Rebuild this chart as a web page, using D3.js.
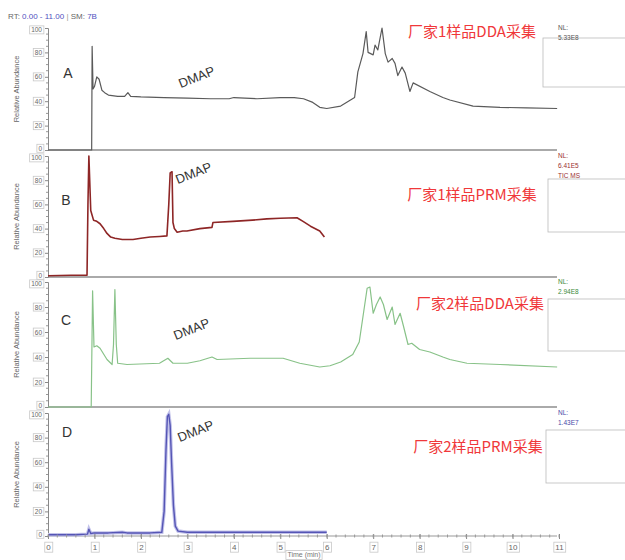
<!DOCTYPE html>
<html><head><meta charset="utf-8">
<script src="https://cdn.jsdelivr.net/npm/d3@7"></script>
<style>body{margin:0;background:#fff}svg{display:block}</style>
</head><body>
<svg id="chart" width="625" height="560"></svg>
<script>
// ---- data ----
const timeTicks = d3.range(0, 12);
const abundanceTicks = [0, 20, 40, 60, 80, 100];

const panelLetters = ["A", "B", "C", "D"];
const panelTitles = ["厂家1样品DDA采集", "厂家1样品PRM采集", "厂家2样品DDA采集", "厂家2样品PRM采集"];
const normLevels = [["NL:", "5.33E8"], ["NL:", "6.41E5", "TIC  MS"], ["NL:", "2.94E8"], ["NL:", "1.43E7"]];
const peakName = "DMAP";

// trace A: vendor 1, DDA
const traceA_t = [0, 0.94, 0.95, 0.97, 1.0, 1.05, 1.1, 1.16, 1.22, 1.3, 1.5, 1.65, 1.72, 1.78, 2.0, 2.5, 3.0, 3.5, 3.9, 4.0, 4.5, 5.0, 5.3, 5.5, 5.7, 5.85, 6.0, 6.3, 6.6, 6.67, 6.78, 6.85, 6.89, 7.0, 7.04, 7.1, 7.19, 7.26, 7.32, 7.41, 7.47, 7.53, 7.62, 7.69, 7.79, 7.86, 8.22, 8.5, 8.65, 9.15, 9.73, 10.3, 10.96];
const traceA_v = [0, 0, 85, 50, 52, 60, 58, 49, 47, 45, 44, 44, 47, 44, 43.5, 43, 42.5, 42, 42, 43, 42, 43, 43, 42, 39, 35, 34, 36, 43, 64, 79, 97, 80, 78, 86, 82, 100, 79, 72, 75, 71, 61, 68, 63, 48, 55, 48, 43, 41, 36, 35, 34.5, 34];

// trace B: vendor 1, PRM
const traceB_t = [0, 0.5, 0.84, 0.86, 0.88, 0.92, 0.98, 1.05, 1.12, 1.2, 1.27, 1.35, 1.44, 1.6, 1.83, 2.0, 2.2, 2.4, 2.56, 2.6, 2.63, 2.67, 2.69, 2.72, 2.78, 2.9, 2.99, 3.27, 3.53, 3.55, 3.98, 4.4, 4.71, 5.0, 5.36, 5.49, 5.65, 5.85, 5.95];
const traceB_v = [1, 1.5, 1.5, 60, 100, 55, 47, 46, 44, 40, 36, 33, 32, 31, 31, 32, 33, 33.5, 34, 60, 86, 87, 45, 40, 37, 38, 38, 40, 41, 45, 46, 47, 48, 48.5, 49, 46, 42, 38, 33];

// trace C: vendor 2, DDA
const traceC_t = [0, 0.93, 0.96, 0.99, 1.05, 1.12, 1.27, 1.38, 1.41, 1.44, 1.47, 1.5, 1.7, 2.4, 2.58, 2.69, 3.0, 3.27, 3.53, 3.64, 4.35, 5.06, 5.42, 5.85, 6.07, 6.3, 6.56, 6.7, 6.87, 6.93, 7.0, 7.07, 7.15, 7.22, 7.3, 7.41, 7.47, 7.58, 7.65, 7.75, 7.83, 8.0, 8.22, 8.5, 8.65, 9.02, 9.73, 10.96];
const traceC_v = [0, 0, 93, 48, 49, 47, 38, 34, 50, 94, 50, 35, 34, 35, 39, 35, 35, 37, 40, 38, 39, 39, 35, 32, 33, 36, 42, 52, 95, 96, 75, 82, 88, 82, 70, 80, 66, 75, 65, 50, 51, 46, 44, 40, 38, 35, 34, 32];

// trace D: vendor 2, PRM
const traceD_t = [0, 0.3, 0.6, 0.85, 0.88, 0.92, 1.0, 1.3, 1.6, 1.7, 1.9, 2.2, 2.45, 2.5, 2.54, 2.57, 2.6, 2.63, 2.66, 2.7, 2.74, 2.8, 3.0, 3.5, 4.0, 4.5, 5.0, 5.5, 6.0];
const traceD_v = [1, 1, 1, 1.5, 5.5, 2, 2.5, 2.5, 3, 2.5, 2.5, 2.5, 3, 20, 70, 97, 99, 90, 60, 25, 8, 4, 3, 3, 3, 3, 3, 3, 3];

const traces = [
  {t: traceA_t, v: traceA_v},
  {t: traceB_t, v: traceB_v},
  {t: traceC_t, v: traceC_v},
  {t: traceD_t, v: traceD_v}
];

// ---- layout & styles ----
const panels = [
  {y0: 150, y100: 28, color: "#5a5a5a", width: 1.2, nlColor: "#555", box: [543, 38, 49], dmap: [197, 78], letter: [68, 78], title: [472, 37]},
  {y0: 277, y100: 156, color: "#8e2626", width: 1.6, nlColor: "#9a3030", box: [548, 179, 53], dmap: [194, 174], letter: [66, 205], title: [472, 200]},
  {y0: 407, y100: 282, color: "#88c288", width: 1.2, nlColor: "#3a8a3a", box: [548, 299, 52], dmap: [192, 330], letter: [66, 325], title: [480, 309]},
  {y0: 536, y100: 413, color: "#5555b5", width: 1.4, nlColor: "#4848a8", box: [546, 430, 53], dmap: [196, 432], letter: [67, 437], title: [478, 452]}
];

const svg = d3.select("#chart");
const font = "'Liberation Sans', Arial, sans-serif";
const x = d3.scaleLinear().domain([0, 11]).range([48, 559]);

// header
const hdr = svg.append("text").attr("x", 8).attr("y", 19).attr("font-family", font).attr("font-size", 8);
hdr.append("tspan").attr("fill", "#666").text("RT: ");
hdr.append("tspan").attr("fill", "#5050c0").text("0.00 - 11.00");
hdr.append("tspan").attr("fill", "#999").text(" | ");
hdr.append("tspan").attr("fill", "#666").text("SM: ");
hdr.append("tspan").attr("fill", "#5050c0").text("7B");

function boxAround(g, sel) {
  sel.each(function () {
    const b = this.getBBox();
    g.insert("rect", ":first-child")
      .attr("x", b.x - 1.5).attr("y", b.y - 0.5)
      .attr("width", b.width + 3).attr("height", b.height + 1)
      .attr("fill", "none").attr("stroke", "#c8c8c8").attr("stroke-width", 0.8);
  });
}

panels.forEach((p, i) => {
  const y = d3.scaleLinear().domain([0, 100]).range([p.y0, p.y100]);
  const g = svg.append("g");

  // info box and normalisation level
  g.append("rect").attr("x", p.box[0]).attr("y", p.box[1]).attr("width", 90).attr("height", p.box[2])
    .attr("fill", "#fff").attr("stroke", "#bbb").attr("stroke-width", 0.8);
  normLevels[i].forEach((s, k) => {
    g.append("text").attr("x", 558).attr("y", y(100) + 2 + k * 10)
      .attr("font-family", font).attr("font-size", 6.5).attr("fill", p.nlColor).text(s);
  });

  // baseline / separator
  g.append("line").attr("x1", x(0)).attr("x2", 557).attr("y1", p.y0).attr("y2", p.y0)
    .attr("stroke", i === 3 ? "#999" : "#aaa").attr("stroke-width", i === 3 ? 1 : 2);

  // y axis; end labels nudged inward so stacked panels don't collide
  const ya = g.append("g").attr("transform", `translate(${x(0)},0)`)
    .call(d3.axisLeft(y).tickValues(abundanceTicks).tickSize(3).tickPadding(3))
    .call(a => a.select(".domain").attr("stroke", "#888"))
    .call(a => a.selectAll(".tick line").attr("stroke", "#888"))
    .call(a => a.selectAll(".tick text").attr("font-family", font).attr("font-size", 6.5).attr("fill", "#666")
      .attr("y", d => d === 100 ? 1.8 : d === 0 ? -1.8 : 0));
  ya.selectAll(".minor").data(d3.range(0, 101, 5).filter(v => v % 20)).enter().append("line")
    .attr("x1", -2).attr("x2", 0).attr("y1", d => y(d)).attr("y2", d => y(d)).attr("stroke", "#999");
  ya.selectAll(".tick").each(function () {
    const t = d3.select(this);
    boxAround(t, t.select("text"));
  });

  g.append("text").attr("transform", `translate(19,${(p.y0 + p.y100) / 2}) rotate(-90)`)
    .attr("text-anchor", "middle").attr("font-family", font).attr("font-size", 7.5).attr("fill", "#666")
    .text("Relative Abundance");

  // chromatogram trace
  const tr = traces[i];
  const pts = tr.t.map((t, k) => [t, tr.v[k]]);
  const line = d3.line().x(d => x(d[0])).y(d => y(d[1]));
  if (i === 3) {
    g.append("path").attr("d", line(pts)).attr("fill", "none").attr("stroke", "#c2c2ea").attr("stroke-width", 3.5);
  }
  g.append("path").attr("d", line(pts)).attr("fill", "none")
    .attr("stroke", p.color).attr("stroke-width", p.width).attr("stroke-linejoin", "round");

  // annotations
  g.append("text").attr("x", p.letter[0]).attr("y", p.letter[1]).attr("text-anchor", "middle")
    .attr("font-family", font).attr("font-size", 14).attr("fill", "#333").text(panelLetters[i]);
  g.append("text").attr("transform", `translate(${p.dmap[0]},${p.dmap[1]}) rotate(-22)`)
    .attr("text-anchor", "middle").attr("dominant-baseline", "middle")
    .attr("font-family", font).attr("font-size", 13).attr("fill", "#333").text(peakName);
  g.append("text").attr("x", p.title[0]).attr("y", p.title[1]).attr("text-anchor", "middle")
    .attr("font-family", "'Noto Sans CJK SC', sans-serif").attr("font-size", 15).attr("fill", "#f0383a")
    .text(panelTitles[i]);
});

// time axis
const xa = svg.append("g").attr("transform", "translate(0,536)")
  .call(d3.axisBottom(x).tickValues(timeTicks).tickFormat(d3.format("d")).tickSize(3).tickPadding(5))
  .call(a => a.select(".domain").remove())
  .call(a => a.selectAll(".tick line").attr("stroke", "#888").attr("y1", -2))
  .call(a => a.selectAll(".tick text").attr("font-family", font).attr("font-size", 8).attr("fill", "#666"));
xa.selectAll(".minor").data(d3.range(0, 11.01, 0.2)).enter().append("line")
  .attr("x1", d => x(d)).attr("x2", d => x(d)).attr("y1", -1.5).attr("y2", 1.5).attr("stroke", "#999");
xa.selectAll(".tick").each(function () {
  const t = d3.select(this);
  boxAround(t, t.select("text"));
});
const xl = svg.append("text").attr("x", 304).attr("y", 557).attr("text-anchor", "middle")
  .attr("font-family", font).attr("font-size", 7).attr("fill", "#777").text("Time (min)");
boxAround(svg, xl);
</script>
</body></html>
